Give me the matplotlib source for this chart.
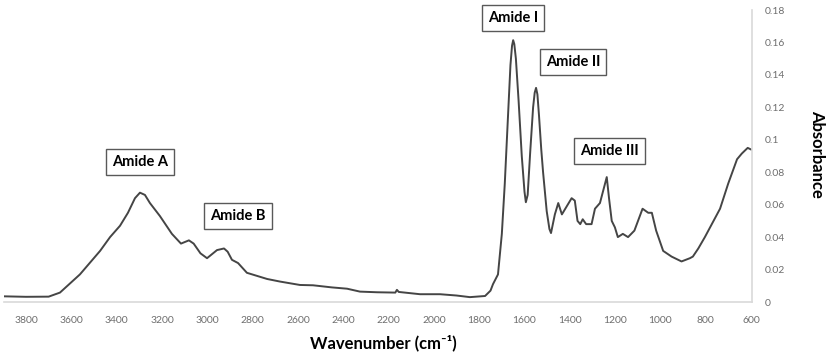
import matplotlib.pyplot as plt

# Espectro FTIR (numero de onda en cm-1, absorbancia)
wavenumber = [3898, 3800, 3700, 3650, 3562, 3473, 3429, 3385, 3350, 3319, 3297,
              3275, 3253, 3209, 3156, 3116, 3081, 3060, 3030, 3001, 2957, 2926,
              2910, 2891, 2864, 2825, 2736, 2679, 2591, 2533, 2450, 2383, 2326,
              2250, 2170, 2163, 2155, 2061, 1973, 1900, 1841, 1774, 1750, 1739,
              1717, 1700, 1687, 1673, 1662, 1655, 1650, 1645, 1638, 1626, 1612,
              1600, 1594, 1586, 1575, 1562, 1555, 1549, 1543, 1536, 1526, 1518,
              1502, 1490, 1483, 1466, 1451, 1435, 1392, 1378, 1366, 1354, 1343,
              1328, 1304, 1289, 1267, 1237, 1227, 1215, 1201, 1188, 1166, 1143,
              1115, 1079, 1054, 1038, 1019, 988, 951, 907, 870, 857, 833, 804,
              737, 701, 662, 641, 627, 615, 600]
absorbance = [0.0035, 0.0032, 0.0033, 0.0058, 0.017, 0.0315, 0.040, 0.047, 0.055,
              0.064, 0.0674, 0.066, 0.061, 0.053, 0.042, 0.036, 0.038, 0.036,
              0.030, 0.027, 0.032, 0.033, 0.031, 0.026, 0.024, 0.018, 0.0142,
              0.0126, 0.0105, 0.0103, 0.0090, 0.0082, 0.0064, 0.0060, 0.0058,
              0.0075, 0.0062, 0.0048, 0.0048, 0.0040, 0.0030, 0.0037, 0.007,
              0.011, 0.017, 0.042, 0.073, 0.114, 0.146, 0.158, 0.1614, 0.159,
              0.150, 0.124, 0.090, 0.068, 0.0615, 0.066, 0.092, 0.120, 0.129,
              0.132, 0.128, 0.115, 0.094, 0.080, 0.056, 0.045, 0.0425, 0.054,
              0.061, 0.054, 0.064, 0.0625, 0.050, 0.048, 0.051, 0.048, 0.048,
              0.0575, 0.061, 0.077, 0.064, 0.050, 0.046, 0.040, 0.042, 0.040,
              0.044, 0.0575, 0.055, 0.055, 0.044, 0.0315, 0.028, 0.025, 0.027,
              0.028, 0.033, 0.040, 0.0575, 0.073, 0.088, 0.0915, 0.0934, 0.095,
              0.094]

# Etiquetas de bandas y su posicion
band_labels = ['Amide A', 'Amide B', 'Amide I', 'Amide II', 'Amide III']
band_x = [3297, 2864, 1650, 1386, 1225]
band_y = [0.0865, 0.053, 0.175, 0.148, 0.093]

x_ticks = [3800, 3600, 3400, 3200, 3000, 2800, 2600, 2400, 2200, 2000,
           1800, 1600, 1400, 1200, 1000, 800, 600]
y_ticks = [0, 0.02, 0.04, 0.06, 0.08, 0.1, 0.12, 0.14, 0.16, 0.18]


def create_plot():
    fig = plt.figure(figsize=(8.29, 3.55), dpi=100)
    ax = fig.add_axes([4 / 829, 1 - 302 / 355, 748 / 829, 292 / 355])

    ax.plot(wavenumber, absorbance, color='#454545', linewidth=1.4)

    ax.set_xlim(3897, 596)
    ax.set_ylim(0, 0.18)

    ax.set_xticks(x_ticks)
    ax.set_xticklabels([str(t) for t in x_ticks])
    ax.set_yticks(y_ticks)
    ax.set_yticklabels(['0' if t == 0 else f'{t:g}' for t in y_ticks])

    ax.yaxis.tick_right()
    ax.tick_params(axis='both', length=0, labelsize=7.5, labelcolor='#6e6e6e',
                   labelfontfamily='Lato')
    ax.tick_params(axis='x', pad=10)
    ax.tick_params(axis='y', pad=9)
    for lbl in ax.get_yticklabels():
        lbl.set_horizontalalignment('left')

    for side in ['top', 'left']:
        ax.spines[side].set_visible(False)
    for side in ['bottom', 'right']:
        ax.spines[side].set_color('#d9d9d9')
        ax.spines[side].set_linewidth(1.2)

    # Etiqueta del eje x con superindice en texto normal
    ax.set_xlabel('Wavenumber (cm\u207b\u00b9)', fontsize=12, fontweight='bold',
                  family=['Lato', 'DejaVu Sans'])
    ax.xaxis.set_label_coords(0.507, -0.112)
    fig.text(817 / 829, 1 - 154 / 355, 'Absorbance', rotation=-90,
             ha='center', va='center', fontsize=12, fontweight='bold',
             family='Lato')

    for label, x, y in zip(band_labels, band_x, band_y):
        ax.text(x, y, label, ha='center', va='center', fontsize=10.5,
                fontweight='bold', family='Lato', color='black',
                bbox=dict(boxstyle='square,pad=0.4', facecolor='white',
                          edgecolor='#595959', linewidth=1))

    fig.savefig('out.png', dpi=100)
    plt.close(fig)


def main():
    create_plot()


if __name__ == "__main__":
    main()
